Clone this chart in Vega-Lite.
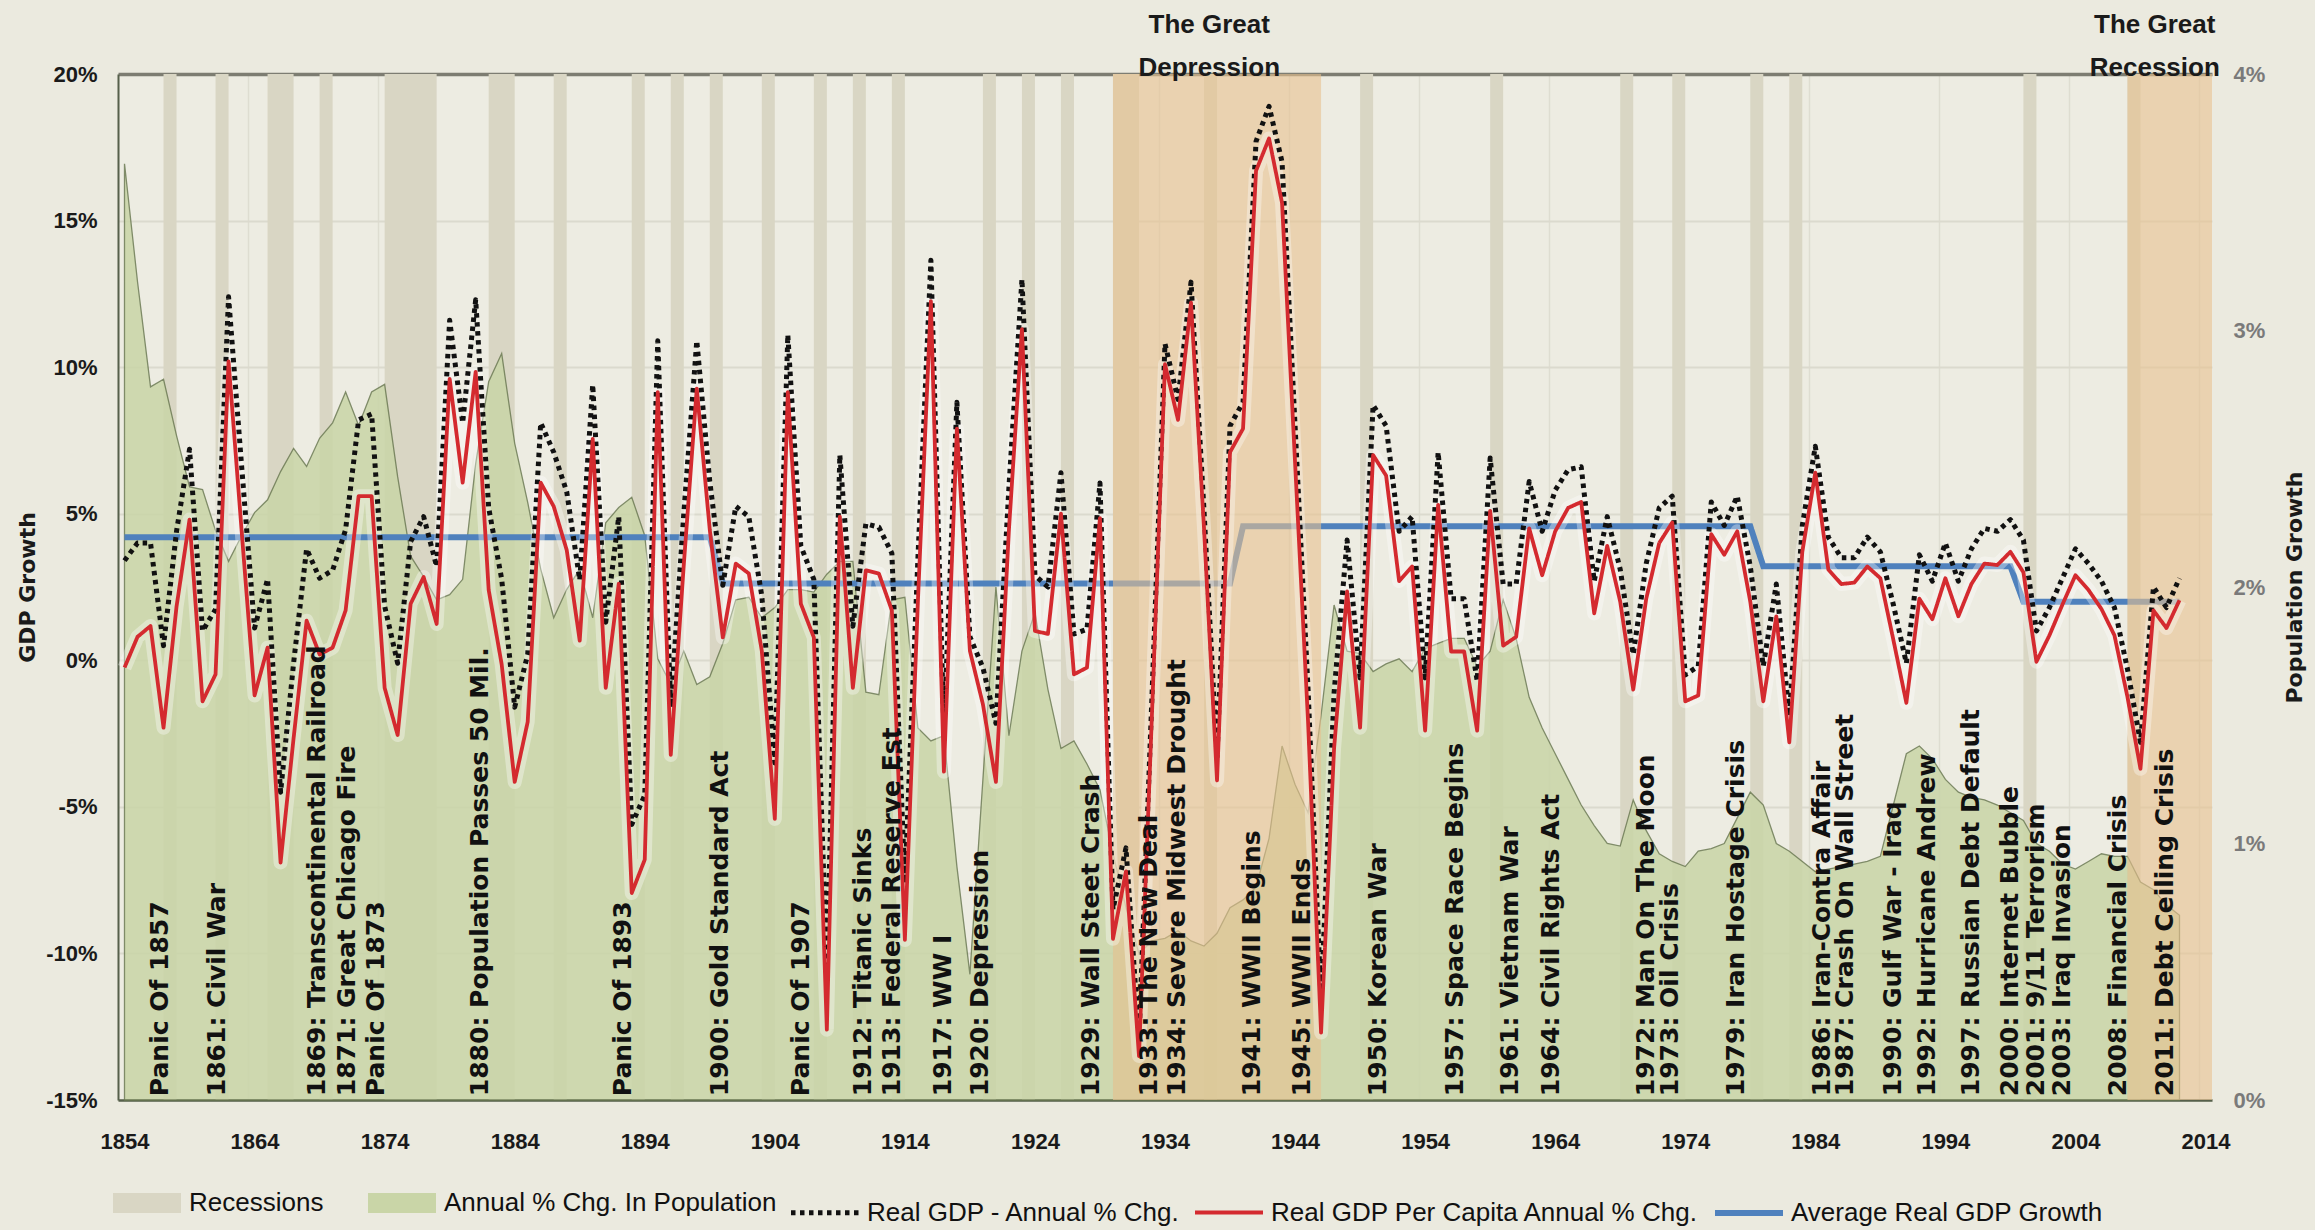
{
"$schema": "https://vega.github.io/schema/vega-lite/v6.json",
"width": 2094, "height": 1026,
"autosize": "none",
"padding": {"left": 118, "top": 74, "right": 103, "bottom": 130},
"background": "#EBEADF",
"config": {
 "view": {"fill": "#EDECE2", "stroke": null},
 "axis": {"labelFont": "Liberation Sans", "labelFontWeight": "bold", "labelFontSize": 22, "ticks": false, "titleFont": "DejaVu Sans", "titleFontWeight": "bold", "titleFontSize": 22, "titleColor": "#1a1a1a"},
 "legend": {"labelFont": "Liberation Sans", "labelFontSize": 26, "labelColor": "#111111", "labelLimit": 800, "labelOffset": -2, "columnPadding": 4, "padding": 0, "symbolSize": 4624, "symbolType": "stroke"}
},
"datasets": {
"main": [
{"year":1854,"gdp":3.4,"pc":-0.25,"pop":3.65,"avg":4.2},
{"year":1855,"gdp":4.0,"pc":0.8,"pop":3.19,"avg":4.2},
{"year":1856,"gdp":4.0,"pc":1.17,"pop":2.78,"avg":4.2},
{"year":1857,"gdp":0.5,"pc":-2.3,"pop":2.81,"avg":4.2},
{"year":1858,"gdp":4.4,"pc":1.83,"pop":2.59,"avg":4.2},
{"year":1859,"gdp":7.2,"pc":4.8,"pop":2.39,"avg":4.2},
{"year":1860,"gdp":1.0,"pc":-1.4,"pop":2.38,"avg":4.2},
{"year":1861,"gdp":1.74,"pc":-0.48,"pop":2.22,"avg":4.2},
{"year":1862,"gdp":12.4,"pc":10.2,"pop":2.1,"avg":4.2},
{"year":1863,"gdp":6.65,"pc":4.45,"pop":2.2,"avg":4.2},
{"year":1864,"gdp":1.1,"pc":-1.2,"pop":2.29,"avg":4.2},
{"year":1865,"gdp":2.77,"pc":0.43,"pop":2.34,"avg":4.2},
{"year":1866,"gdp":-4.5,"pc":-6.9,"pop":2.45,"avg":4.2},
{"year":1867,"gdp":-0.1,"pc":-2.66,"pop":2.54,"avg":4.2},
{"year":1868,"gdp":3.8,"pc":1.35,"pop":2.47,"avg":4.2},
{"year":1869,"gdp":2.8,"pc":0.2,"pop":2.58,"avg":4.2},
{"year":1870,"gdp":3.07,"pc":0.43,"pop":2.64,"avg":4.2},
{"year":1871,"gdp":4.46,"pc":1.7,"pop":2.76,"avg":4.2},
{"year":1872,"gdp":8.2,"pc":5.6,"pop":2.63,"avg":4.2},
{"year":1873,"gdp":8.4,"pc":5.6,"pop":2.76,"avg":4.2},
{"year":1874,"gdp":1.85,"pc":-0.94,"pop":2.79,"avg":4.2},
{"year":1875,"gdp":-0.1,"pc":-2.55,"pop":2.43,"avg":4.2},
{"year":1876,"gdp":4.05,"pc":1.93,"pop":2.12,"avg":4.2},
{"year":1877,"gdp":4.9,"pc":2.84,"pop":2.04,"avg":4.2},
{"year":1878,"gdp":3.2,"pc":1.24,"pop":1.95,"avg":4.2},
{"year":1879,"gdp":11.6,"pc":9.6,"pop":1.97,"avg":4.2},
{"year":1880,"gdp":8.1,"pc":6.06,"pop":2.03,"avg":4.2},
{"year":1881,"gdp":12.3,"pc":9.84,"pop":2.48,"avg":4.2},
{"year":1882,"gdp":5.2,"pc":2.4,"pop":2.8,"avg":4.2},
{"year":1883,"gdp":2.77,"pc":-0.14,"pop":2.91,"avg":4.2},
{"year":1884,"gdp":-1.6,"pc":-4.15,"pop":2.56,"avg":4.2},
{"year":1885,"gdp":0.2,"pc":-2.1,"pop":2.33,"avg":4.2},
{"year":1886,"gdp":8.1,"pc":6.06,"pop":2.07,"avg":4.2},
{"year":1887,"gdp":7.1,"pc":5.25,"pop":1.88,"avg":4.2},
{"year":1888,"gdp":5.75,"pc":3.76,"pop":1.99,"avg":4.2},
{"year":1889,"gdp":2.74,"pc":0.67,"pop":2.07,"avg":4.2},
{"year":1890,"gdp":9.4,"pc":7.55,"pop":1.88,"avg":4.2},
{"year":1891,"gdp":1.3,"pc":-0.94,"pop":2.25,"avg":4.2},
{"year":1892,"gdp":4.9,"pc":2.61,"pop":2.31,"avg":4.2},
{"year":1893,"gdp":-5.6,"pc":-7.94,"pop":2.35,"avg":4.2},
{"year":1894,"gdp":-4.6,"pc":-6.8,"pop":2.2,"avg":4.2},
{"year":1895,"gdp":10.9,"pc":9.15,"pop":1.72,"avg":4.2},
{"year":1896,"gdp":-1.6,"pc":-3.23,"pop":1.62,"avg":4.2},
{"year":1897,"gdp":5.0,"pc":3.25,"pop":1.75,"avg":4.2},
{"year":1898,"gdp":10.9,"pc":9.27,"pop":1.62,"avg":4.2},
{"year":1899,"gdp":6.1,"pc":4.45,"pop":1.65,"avg":4.2},
{"year":1900,"gdp":2.56,"pc":0.78,"pop":1.78,"avg":2.62},
{"year":1901,"gdp":5.25,"pc":3.3,"pop":1.95,"avg":2.62},
{"year":1902,"gdp":4.9,"pc":2.96,"pop":1.96,"avg":2.62},
{"year":1903,"gdp":2.2,"pc":0.32,"pop":1.88,"avg":2.62},
{"year":1904,"gdp":-3.5,"pc":-5.41,"pop":1.92,"avg":2.62},
{"year":1905,"gdp":11.1,"pc":9.15,"pop":1.99,"avg":2.62},
{"year":1906,"gdp":3.9,"pc":1.93,"pop":1.99,"avg":2.62},
{"year":1907,"gdp":2.76,"pc":0.78,"pop":1.98,"avg":2.62},
{"year":1908,"gdp":-10.55,"pc":-12.6,"pop":2.05,"avg":2.62},
{"year":1909,"gdp":7.0,"pc":4.9,"pop":2.1,"avg":2.62},
{"year":1910,"gdp":1.16,"pc":-0.94,"pop":2.1,"avg":2.62},
{"year":1911,"gdp":4.66,"pc":3.07,"pop":1.59,"avg":2.62},
{"year":1912,"gdp":4.54,"pc":2.96,"pop":1.58,"avg":2.62},
{"year":1913,"gdp":3.65,"pc":1.7,"pop":1.95,"avg":2.62},
{"year":1914,"gdp":-7.6,"pc":-9.54,"pop":1.96,"avg":2.62},
{"year":1915,"gdp":3.45,"pc":2.0,"pop":1.45,"avg":2.62},
{"year":1916,"gdp":13.65,"pc":12.25,"pop":1.4,"avg":2.62},
{"year":1917,"gdp":-2.4,"pc":-3.8,"pop":1.42,"avg":2.62},
{"year":1918,"gdp":8.8,"pc":7.9,"pop":0.91,"avg":2.62},
{"year":1919,"gdp":0.8,"pc":0.32,"pop":0.49,"avg":2.62},
{"year":1920,"gdp":-0.25,"pc":-1.5,"pop":1.25,"avg":2.62},
{"year":1921,"gdp":-2.15,"pc":-4.15,"pop":2.0,"avg":2.62},
{"year":1922,"gdp":5.9,"pc":4.45,"pop":1.42,"avg":2.62},
{"year":1923,"gdp":13.0,"pc":11.3,"pop":1.75,"avg":2.62},
{"year":1924,"gdp":2.9,"pc":1.0,"pop":1.9,"avg":2.62},
{"year":1925,"gdp":2.5,"pc":0.9,"pop":1.6,"avg":2.62},
{"year":1926,"gdp":6.4,"pc":5.0,"pop":1.37,"avg":2.62},
{"year":1927,"gdp":0.9,"pc":-0.48,"pop":1.4,"avg":2.62},
{"year":1928,"gdp":1.06,"pc":-0.25,"pop":1.31,"avg":2.62},
{"year":1929,"gdp":6.05,"pc":4.85,"pop":1.21,"avg":2.62},
{"year":1930,"gdp":-8.5,"pc":-9.5,"pop":0.96,"avg":2.62},
{"year":1931,"gdp":-6.4,"pc":-7.2,"pop":0.75,"avg":2.62},
{"year":1932,"gdp":-12.9,"pc":-13.5,"pop":0.57,"avg":2.62},
{"year":1933,"gdp":-1.2,"pc":-1.8,"pop":0.62,"avg":2.62},
{"year":1934,"gdp":10.8,"pc":10.1,"pop":0.63,"avg":2.62},
{"year":1935,"gdp":8.9,"pc":8.2,"pop":0.66,"avg":2.62},
{"year":1936,"gdp":12.9,"pc":12.2,"pop":0.62,"avg":2.62},
{"year":1937,"gdp":5.1,"pc":4.5,"pop":0.6,"avg":2.62},
{"year":1938,"gdp":-3.3,"pc":-4.1,"pop":0.65,"avg":2.62},
{"year":1939,"gdp":8.0,"pc":7.1,"pop":0.75,"avg":2.62},
{"year":1940,"gdp":8.8,"pc":7.9,"pop":0.78,"avg":4.57},
{"year":1941,"gdp":17.7,"pc":16.7,"pop":0.83,"avg":4.57},
{"year":1942,"gdp":18.9,"pc":17.8,"pop":1.02,"avg":4.57},
{"year":1943,"gdp":17.0,"pc":15.6,"pop":1.38,"avg":4.57},
{"year":1944,"gdp":8.0,"pc":6.75,"pop":1.23,"avg":4.57},
{"year":1945,"gdp":-1.0,"pc":-2.1,"pop":1.12,"avg":4.57},
{"year":1946,"gdp":-11.6,"pc":-12.7,"pop":1.5,"avg":4.57},
{"year":1947,"gdp":-1.1,"pc":-3.0,"pop":1.93,"avg":4.57},
{"year":1948,"gdp":4.1,"pc":2.35,"pop":1.75,"avg":4.57},
{"year":1949,"gdp":-0.6,"pc":-2.3,"pop":1.74,"avg":4.57},
{"year":1950,"gdp":8.7,"pc":7.0,"pop":1.67,"avg":4.57},
{"year":1951,"gdp":8.0,"pc":6.3,"pop":1.7,"avg":4.57},
{"year":1952,"gdp":4.4,"pc":2.7,"pop":1.72,"avg":4.57},
{"year":1953,"gdp":4.9,"pc":3.2,"pop":1.67,"avg":4.57},
{"year":1954,"gdp":-0.6,"pc":-2.4,"pop":1.76,"avg":4.57},
{"year":1955,"gdp":7.1,"pc":5.3,"pop":1.78,"avg":4.57},
{"year":1956,"gdp":2.1,"pc":0.3,"pop":1.8,"avg":4.57},
{"year":1957,"gdp":2.1,"pc":0.3,"pop":1.8,"avg":4.57},
{"year":1958,"gdp":-0.7,"pc":-2.4,"pop":1.69,"avg":4.57},
{"year":1959,"gdp":6.9,"pc":5.1,"pop":1.75,"avg":4.57},
{"year":1960,"gdp":2.6,"pc":0.5,"pop":1.95,"avg":4.57},
{"year":1961,"gdp":2.6,"pc":0.8,"pop":1.8,"avg":4.57},
{"year":1962,"gdp":6.1,"pc":4.5,"pop":1.57,"avg":4.57},
{"year":1963,"gdp":4.4,"pc":2.9,"pop":1.45,"avg":4.57},
{"year":1964,"gdp":5.8,"pc":4.4,"pop":1.35,"avg":4.57},
{"year":1965,"gdp":6.5,"pc":5.2,"pop":1.25,"avg":4.57},
{"year":1966,"gdp":6.6,"pc":5.4,"pop":1.15,"avg":4.57},
{"year":1967,"gdp":2.7,"pc":1.6,"pop":1.07,"avg":4.57},
{"year":1968,"gdp":4.9,"pc":3.9,"pop":1.0,"avg":4.57},
{"year":1969,"gdp":3.1,"pc":2.0,"pop":0.99,"avg":4.57},
{"year":1970,"gdp":0.2,"pc":-1.0,"pop":1.17,"avg":4.57},
{"year":1971,"gdp":3.3,"pc":2.1,"pop":1.05,"avg":4.57},
{"year":1972,"gdp":5.2,"pc":4.0,"pop":0.96,"avg":4.57},
{"year":1973,"gdp":5.6,"pc":4.7,"pop":0.93,"avg":4.57},
{"year":1974,"gdp":-0.5,"pc":-1.4,"pop":0.91,"avg":4.57},
{"year":1975,"gdp":-0.2,"pc":-1.2,"pop":0.97,"avg":4.57},
{"year":1976,"gdp":5.4,"pc":4.3,"pop":0.98,"avg":4.57},
{"year":1977,"gdp":4.6,"pc":3.6,"pop":1.0,"avg":4.57},
{"year":1978,"gdp":5.6,"pc":4.4,"pop":1.1,"avg":4.57},
{"year":1979,"gdp":3.2,"pc":2.0,"pop":1.2,"avg":4.57},
{"year":1980,"gdp":-0.2,"pc":-1.4,"pop":1.15,"avg":3.21},
{"year":1981,"gdp":2.6,"pc":1.5,"pop":1.0,"avg":3.21},
{"year":1982,"gdp":-1.9,"pc":-2.8,"pop":0.97,"avg":3.21},
{"year":1983,"gdp":4.6,"pc":3.7,"pop":0.93,"avg":3.21},
{"year":1984,"gdp":7.3,"pc":6.4,"pop":0.89,"avg":3.21},
{"year":1985,"gdp":4.2,"pc":3.1,"pop":0.9,"avg":3.21},
{"year":1986,"gdp":3.5,"pc":2.6,"pop":0.91,"avg":3.21},
{"year":1987,"gdp":3.5,"pc":2.65,"pop":0.92,"avg":3.21},
{"year":1988,"gdp":4.2,"pc":3.2,"pop":0.93,"avg":3.21},
{"year":1989,"gdp":3.7,"pc":2.8,"pop":0.95,"avg":3.21},
{"year":1990,"gdp":1.9,"pc":0.7,"pop":1.15,"avg":3.21},
{"year":1991,"gdp":-0.1,"pc":-1.45,"pop":1.35,"avg":3.21},
{"year":1992,"gdp":3.6,"pc":2.1,"pop":1.38,"avg":3.21},
{"year":1993,"gdp":2.7,"pc":1.4,"pop":1.33,"avg":3.21},
{"year":1994,"gdp":4.0,"pc":2.8,"pop":1.25,"avg":3.21},
{"year":1995,"gdp":2.7,"pc":1.5,"pop":1.2,"avg":3.21},
{"year":1996,"gdp":3.8,"pc":2.6,"pop":1.18,"avg":3.21},
{"year":1997,"gdp":4.5,"pc":3.3,"pop":1.17,"avg":3.21},
{"year":1998,"gdp":4.4,"pc":3.25,"pop":1.15,"avg":3.21},
{"year":1999,"gdp":4.8,"pc":3.7,"pop":1.12,"avg":3.21},
{"year":2000,"gdp":4.1,"pc":3.0,"pop":1.09,"avg":2.0},
{"year":2001,"gdp":1.0,"pc":-0.05,"pop":1.0,"avg":2.0},
{"year":2002,"gdp":1.8,"pc":0.85,"pop":0.97,"avg":2.0},
{"year":2003,"gdp":2.8,"pc":1.9,"pop":0.92,"avg":2.0},
{"year":2004,"gdp":3.8,"pc":2.9,"pop":0.9,"avg":2.0},
{"year":2005,"gdp":3.3,"pc":2.4,"pop":0.93,"avg":2.0},
{"year":2006,"gdp":2.7,"pc":1.75,"pop":0.96,"avg":2.0},
{"year":2007,"gdp":1.8,"pc":0.85,"pop":0.95,"avg":2.0},
{"year":2008,"gdp":-0.3,"pc":-1.25,"pop":0.95,"avg":2.0},
{"year":2009,"gdp":-2.8,"pc":-3.7,"pop":0.85,"avg":2.0},
{"year":2010,"gdp":2.5,"pc":1.7,"pop":0.82,"avg":2.0},
{"year":2011,"gdp":1.8,"pc":1.1,"pop":0.76,"avg":2.0},
{"year":2012,"gdp":2.8,"pc":2.05,"pop":0.72,"avg":2.0}
],
"rec": [
{"start":1857,"end":1858},{"start":1861,"end":1862},{"start":1865,"end":1867},{"start":1869,"end":1870},
{"start":1874,"end":1878},{"start":1882,"end":1884},{"start":1887,"end":1888},{"start":1893,"end":1894},
{"start":1896,"end":1897},{"start":1899,"end":1900},{"start":1903,"end":1904},{"start":1907,"end":1908},
{"start":1910,"end":1911},{"start":1913,"end":1914},{"start":1920,"end":1921},{"start":1923,"end":1924},
{"start":1926,"end":1927},{"start":1930,"end":1932},{"start":1937,"end":1938},{"start":1949,"end":1950},
{"start":1959,"end":1960},{"start":1969,"end":1970},{"start":1973,"end":1974},{"start":1979,"end":1980},
{"start":1982,"end":1983},{"start":2000,"end":2001},{"start":2008,"end":2009}
],
"bands": [
{"start":1930,"end":1946,"label":"The Great\nDepression","mid":1937.4},
{"start":2008,"end":2014.5,"label":"The Great\nRecession","mid":2010.1}
],
"events": [
{"year":1856.7,"label":"Panic Of 1857"},
{"year":1861.1,"label":"1861: Civil War"},
{"year":1868.8,"label":"1869: Transcontinental Railroad"},
{"year":1871.1,"label":"1871: Great Chicago Fire"},
{"year":1873.3,"label":"Panic Of 1873"},
{"year":1881.3,"label":"1880: Population Passes 50 Mil."},
{"year":1892.3,"label":"Panic Of 1893"},
{"year":1899.8,"label":"1900: Gold Standard Act"},
{"year":1906.0,"label":"Panic Of 1907"},
{"year":1910.8,"label":"1912: Titanic Sinks"},
{"year":1913.0,"label":"1913: Federal Reserve Est"},
{"year":1916.9,"label":"1917: WW I"},
{"year":1919.75,"label":"1920: Depression"},
{"year":1928.3,"label":"1929: Wall Steet Crash"},
{"year":1932.8,"label":"1933: The New Deal"},
{"year":1934.9,"label":"1934: Severe Midwest Drought"},
{"year":1940.7,"label":"1941: WWII Begins"},
{"year":1944.5,"label":"1945: WWII Ends"},
{"year":1950.4,"label":"1950: Korean War"},
{"year":1956.3,"label":"1957: Space Race Begins"},
{"year":1960.5,"label":"1961: Vietnam War"},
{"year":1963.7,"label":"1964: Civil Rights Act"},
{"year":1971.0,"label":"1972: Man On The Moon"},
{"year":1972.8,"label":"1973: Oil Crisis"},
{"year":1977.9,"label":"1979: Iran Hostage Crisis"},
{"year":1984.5,"label":"1986: Iran-Contra Affair"},
{"year":1986.3,"label":"1987: Crash On Wall Street"},
{"year":1990.0,"label":"1990: Gulf War - Iraq"},
{"year":1992.6,"label":"1992: Hurricane Andrew"},
{"year":1996.0,"label":"1997: Russian Debt Default"},
{"year":1999.0,"label":"2000: Internet Bubble"},
{"year":2001.0,"label":"2001: 9/11 Terrorism"},
{"year":2003.0,"label":"2003: Iraq Invasion"},
{"year":2007.3,"label":"2008: Financial Crisis"},
{"year":2010.9,"label":"2011: Debt Ceiling Crisis"}
]
},
"layer": [
{
 "data": {"name": "rec"},
 "mark": {"type": "rect", "color": "#D9D6C4"},
 "encoding": {
  "x": {"field": "start", "type": "quantitative", "scale": {"domain": [1853.5, 2014.5], "nice": false, "zero": false},
        "axis": {"values": [1854,1864,1874,1884,1894,1904,1914,1924,1934,1944,1954,1964,1974,1984,1994,2004,2014], "format": "d", "grid": true, "gridColor": "#DEDDD1", "gridWidth": 1.5, "tickOffset": -6.5, "labelOffset": 6.5, "labelPadding": 31, "labelColor": "#1a1a1a", "domainColor": "#56604B", "domainWidth": 2.5, "title": null}},
  "x2": {"field": "end"}
 }
},
{
 "data": {"name": "main"},
 "mark": {"type": "area", "color": "#C9D5A7", "stroke": "#6C7B53", "strokeWidth": 1.3, "opacity": 0.85},
 "encoding": {
  "x": {"field": "year", "type": "quantitative", "scale": {"domain": [1853.5, 2014.5], "nice": false, "zero": false}},
  "y": {"field": "pop", "type": "quantitative", "scale": {"domain": [0, 4], "nice": false, "zero": false},
        "axis": {"orient": "right", "values": [0,1,2,3,4], "labelExpr": "datum.value + '%'", "labelColor": "#7A7A7A", "labelPadding": 21, "domain": false, "grid": false, "title": "Population Growth", "titleAngle": 270, "titleX": 82, "titleBaseline": "middle"}}
 }
},
{
 "layer": [
  {
   "data": {"name": "main"},
   "mark": {"type": "line", "strokeCap": "butt"},
   "encoding": {
    "x": {"field": "year", "type": "quantitative", "scale": {"domain": [1853.5, 2014.5], "nice": false, "zero": false}},
    "y": {"field": "avg", "type": "quantitative", "scale": {"domain": [-15, 20], "nice": false, "zero": false},
          "axis": {"orient": "left", "values": [-15,-10,-5,0,5,10,15,20], "labelExpr": "datum.value + '%'", "labelColor": "#1a1a1a", "labelPadding": 21, "grid": true,
                   "gridColor": {"condition": {"test": "datum.value === 20", "value": "#7D7D72"}, "value": "#DBDACE"},
                   "gridWidth": {"condition": {"test": "datum.value === 20", "value": 3.5}, "value": 2},
                   "domainColor": "#56604B", "domainWidth": 2, "title": "GDP Growth", "titleX": -91, "titleBaseline": "middle", "titleAngle": 270}},
    "stroke": {"datum": "Average Real GDP Growth", "scale": {"domain": ["Recessions", "Annual % Chg. In Population", "Real GDP - Annual % Chg.", "Real GDP Per Capita Annual % Chg.", "Average Real GDP Growth"], "range": ["#D9D6C4", "#C9D5A7", "#111111", "#D42A2F", "#4F81BD"]},
      "legend": {"orient": "none", "legendX": -15, "legendY": 1085, "direction": "horizontal", "columns": 5, "title": null}},
    "strokeDash": {"datum": "Average Real GDP Growth", "scale": {"domain": ["Recessions", "Annual % Chg. In Population", "Real GDP - Annual % Chg.", "Real GDP Per Capita Annual % Chg.", "Average Real GDP Growth"], "range": [[1,0],[1,0],[4.5,4.5],[1,0],[1,0]]},
      "legend": {"orient": "none", "legendX": -15, "legendY": 1085, "direction": "horizontal", "columns": 5, "title": null}},
    "strokeWidth": {"datum": "Average Real GDP Growth", "scale": {"type": "ordinal", "domain": ["Recessions", "Annual % Chg. In Population", "Real GDP - Annual % Chg.", "Real GDP Per Capita Annual % Chg.", "Average Real GDP Growth"], "range": [20, 20, 5, 3.8, 6]},
      "legend": {"orient": "none", "legendX": -15, "legendY": 1085, "direction": "horizontal", "columns": 5, "title": null}}
   }
  },
  {
   "data": {"name": "bands"},
   "mark": {"type": "rect", "color": "#E8C290", "opacity": 0.6},
   "encoding": {
    "x": {"field": "start", "type": "quantitative", "scale": {"domain": [1853.5, 2014.5], "nice": false, "zero": false}},
    "x2": {"field": "end"}
   }
  },
  {
   "data": {"name": "main"},
   "mark": {"type": "line", "color": "#FFFFFF", "strokeWidth": 14, "opacity": 0.35, "strokeJoin": "round"},
   "encoding": {
    "x": {"field": "year", "type": "quantitative"},
    "y": {"field": "pc", "type": "quantitative"}
   }
  },
  {
   "data": {"name": "main"},
   "mark": {"type": "line", "strokeCap": "butt", "strokeJoin": "round"},
   "encoding": {
    "x": {"field": "year", "type": "quantitative"},
    "y": {"field": "gdp", "type": "quantitative"},
    "stroke": {"datum": "Real GDP - Annual % Chg.", "scale": {"domain": ["Recessions", "Annual % Chg. In Population", "Real GDP - Annual % Chg.", "Real GDP Per Capita Annual % Chg.", "Average Real GDP Growth"], "range": ["#D9D6C4", "#C9D5A7", "#111111", "#D42A2F", "#4F81BD"]}},
    "strokeDash": {"datum": "Real GDP - Annual % Chg.", "scale": {"domain": ["Recessions", "Annual % Chg. In Population", "Real GDP - Annual % Chg.", "Real GDP Per Capita Annual % Chg.", "Average Real GDP Growth"], "range": [[1,0],[1,0],[4.5,4.5],[1,0],[1,0]]}},
    "strokeWidth": {"datum": "Real GDP - Annual % Chg.", "scale": {"type": "ordinal", "domain": ["Recessions", "Annual % Chg. In Population", "Real GDP - Annual % Chg.", "Real GDP Per Capita Annual % Chg.", "Average Real GDP Growth"], "range": [20, 20, 5, 3.8, 6]}}
   }
  },
  {
   "data": {"name": "main"},
   "mark": {"type": "line", "strokeJoin": "round"},
   "encoding": {
    "x": {"field": "year", "type": "quantitative"},
    "y": {"field": "pc", "type": "quantitative"},
    "stroke": {"datum": "Real GDP Per Capita Annual % Chg.", "scale": {"domain": ["Recessions", "Annual % Chg. In Population", "Real GDP - Annual % Chg.", "Real GDP Per Capita Annual % Chg.", "Average Real GDP Growth"], "range": ["#D9D6C4", "#C9D5A7", "#111111", "#D42A2F", "#4F81BD"]}},
    "strokeDash": {"datum": "Real GDP Per Capita Annual % Chg.", "scale": {"domain": ["Recessions", "Annual % Chg. In Population", "Real GDP - Annual % Chg.", "Real GDP Per Capita Annual % Chg.", "Average Real GDP Growth"], "range": [[1,0],[1,0],[4.5,4.5],[1,0],[1,0]]}},
    "strokeWidth": {"datum": "Real GDP Per Capita Annual % Chg.", "scale": {"type": "ordinal", "domain": ["Recessions", "Annual % Chg. In Population", "Real GDP - Annual % Chg.", "Real GDP Per Capita Annual % Chg.", "Average Real GDP Growth"], "range": [20, 20, 5, 3.8, 6]}}
   }
  },
  {
   "data": {"name": "events"},
   "mark": {"type": "text", "angle": 270, "align": "left", "baseline": "middle", "font": "DejaVu Sans", "fontWeight": "bold", "fontSize": 25, "color": "#111111"},
   "encoding": {
    "x": {"field": "year", "type": "quantitative"},
    "y": {"datum": -14.87, "type": "quantitative"},
    "text": {"field": "label"}
   }
  },
  {
   "data": {"name": "bands"},
   "mark": {"type": "text", "align": "center", "baseline": "middle", "lineBreak": "\n", "lineHeight": 43, "font": "Liberation Sans", "fontWeight": "bold", "fontSize": 26, "color": "#1a1a1a"},
   "encoding": {
    "x": {"field": "mid", "type": "quantitative"},
    "y": {"datum": 21.67, "type": "quantitative"},
    "text": {"field": "label"}
   }
  }
 ]
}
],
"resolve": {"scale": {"y": "independent"}}
}
